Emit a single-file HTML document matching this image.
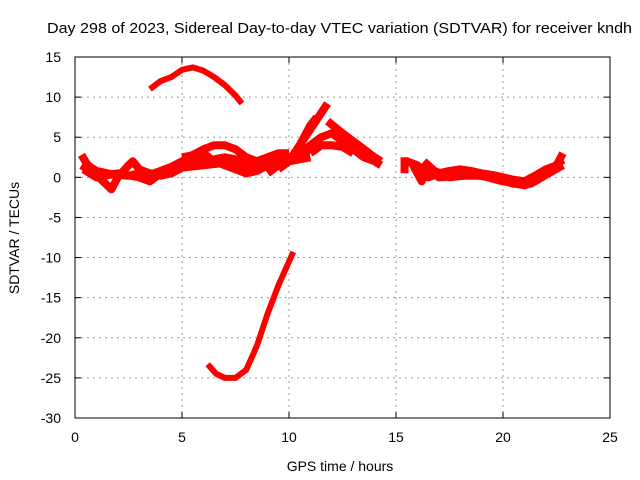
<!DOCTYPE html>
<html><head><meta charset="utf-8"><style>
body{margin:0;background:#fff}
svg{display:block;font-family:"Liberation Sans",sans-serif}
</style></head><body>
<svg id="chart" width="640" height="480">
<rect x="0" y="0" width="640" height="480" fill="#fff"/>
<g id="grid"></g>
<g id="series"></g>
<rect x="75" y="57" width="535" height="361" fill="none" stroke="#000" stroke-width="1"/>
<g id="ticks"></g>
<text x="47" y="33" text-anchor="start" font-size="15" textLength="585" lengthAdjust="spacingAndGlyphs">Day 298 of 2023, Sidereal Day-to-day VTEC variation (SDTVAR) for receiver kndh</text>
<text x="340" y="471" text-anchor="middle" font-size="14">GPS time / hours</text>
<text transform="translate(19,238) rotate(-90)" text-anchor="middle" font-size="14">SDTVAR / TECUs</text>
</svg>
<script>
const xTicks=[0,5,10,15,20,25];
const yTicks=[15,10,5,0,-5,-10,-15,-20,-25,-30];
const arcTop=[[3.5,11],[4,12],[4.5,12.5],[5,13.4],[5.5,13.7],[6,13.3],[6.5,12.5],[7,11.5],[7.5,10.2],[7.8,9.2]];
const dip=[[6.2,-23.3],[6.6,-24.5],[7,-25],[7.5,-25],[8,-24],[8.5,-21],[9,-17],[9.5,-13.5],[10,-10.5],[10.2,-9.3]];
const band1=[[0.3,2.8],[0.6,1.5],[1,0.8],[1.5,0.5],[2,0.3],[2.5,0.2],[3,0.5],[3.5,0.3],[4,0.8],[4.5,1.3],[5,2],[5.5,2.8],[6,3.5],[6.5,4],[7,4],[7.5,3.5],[8,2.5],[8.5,2],[9,2.5],[9.5,3],[10,3]];
const band2=[[0.3,1.5],[1,0.3],[1.7,-1.5],[2,0],[2.5,1.5],[2.7,2],[3,1],[3.5,0.5],[4,0.2],[4.5,0.5],[5,1.2],[6,1.5],[7,1.8],[8,1],[9,1.5],[10,2],[11,2.5]];
const band3=[[5,2.5],[6,3],[6.5,2],[7,1.5],[7.5,1],[8,0.5],[8.5,0.8],[9,1.5],[9.5,2.5],[10,2],[10.5,3],[11,3.5]];
const band3b=[[0.4,1],[1,0],[2,0.5],[3,0],[3.5,-0.5],[4,0.5],[5,1.5],[6,2],[7,2.5],[8,2],[9,2],[10,2.5]];
const steep1=[[9.5,1],[10,2],[10.5,4],[11,6],[11.5,8],[11.8,9.2]];
const steep2=[[10,2],[10.5,4],[11,6.5],[11.3,7.5]];
const band4=[[9,0.5],[10,2.5],[10.5,3],[11,4],[11.5,5],[12,5.5],[12.5,4.5],[13,3.5],[13.5,2.5],[14,2],[14.3,1.5]];
const band5=[[11.8,7],[12.5,5.5],[13,4.5],[13.5,3.5],[14,2.5],[14.3,2]];
const band6=[[11,3],[11.5,4],[12,4],[12.5,3.8],[13,3]];
const late1=[[15.5,2],[16,1.5],[16.5,0],[17,0.5],[17.5,0.8],[18,1],[18.5,0.8],[19,0.5],[19.5,0.3],[20,0],[20.5,-0.3],[21,-0.5],[21.5,0.2],[22,1],[22.5,1.5],[22.8,3]];
const late2=[[15.8,1.5],[16.2,-0.5],[16.5,1.5],[17,0],[18,0.2],[19,0.2],[20,-0.5],[21,-1],[21.5,-0.5],[22,0.3],[22.8,1.5]];
const late3=[[15.4,2.5],[15.4,0.5]];
const late4=[[16.3,2],[16.8,0.8],[17.5,0],[18.5,0.3],[19.5,0],[20.5,-0.8],[21.3,-0.8],[22,0.5],[22.8,2.2]];
const thinSeries=[arcTop,dip];
const bandSeries=[band1,band2,band3,band3b,steep1,steep2,band4,band5,band6,late1,late2,late3,late4];
const NS="http://www.w3.org/2000/svg";
const X0=75,X1=610,Y0=418,Y1=57,xmin=0,xmax=25,ymin=-30,ymax=15;
function sx(v){return X0+(v-xmin)/(xmax-xmin)*(X1-X0);}
function sy(v){return Y0-(v-ymin)/(ymax-ymin)*(Y0-Y1);}
const grid=document.getElementById('grid'),ticks=document.getElementById('ticks'),sg=document.getElementById('series');
function mk(t,a){const e=document.createElementNS(NS,t);for(const k in a)e.setAttribute(k,a[k]);return e;}
xTicks.forEach(v=>{
  const x=sx(v);
  if(v>xmin&&v<xmax){const g=mk('line',{x1:x,x2:x,y1:Y1,y2:Y0,stroke:'#999','stroke-dasharray':'2,4'});
  
  
  grid.appendChild(g);}
  const t=mk('line',{x1:x,x2:x,y1:Y0,y2:Y0-6,stroke:'#000'});
  
  
  ticks.appendChild(t);
  ticks.appendChild(mk('line',{x1:x,x2:x,y1:Y1,y2:Y1+6,stroke:'#000'}));
  const l=mk('text',{x:x,y:Y0+24,'text-anchor':'middle','font-size':14});l.textContent=v;
  
  
  ticks.appendChild(l);
});
yTicks.forEach(v=>{
  const y=sy(v);
  if(v>ymin&&v<ymax){const g=mk('line',{x1:X0,x2:X1,y1:y,y2:y,stroke:'#999','stroke-dasharray':'2,4'});
  
  
  grid.appendChild(g);}
  const t=mk('line',{x1:X0,x2:X0+6,y1:y,y2:y,stroke:'#000'});
  
  
  ticks.appendChild(t);
  ticks.appendChild(mk('line',{x1:X1,x2:X1-6,y1:y,y2:y,stroke:'#000'}));
  const l=mk('text',{x:X0-14,y:y+5,'text-anchor':'end','font-size':14});l.textContent=v;
  
  
  ticks.appendChild(l);
});
function draw(s,i,w){
  const p=mk('polyline',{points:s.map(d=>sx(d[0])+','+sy(d[1])).join(' '),fill:'none',stroke:'#f00','stroke-width':w,'stroke-linejoin':'round','stroke-linecap':'butt'});
  
  
  sg.appendChild(p);
}
thinSeries.forEach((s,i)=>draw(s,i+1,6));
bandSeries.forEach((s,i)=>draw(s,i+3,8));
</script>
</body></html>
